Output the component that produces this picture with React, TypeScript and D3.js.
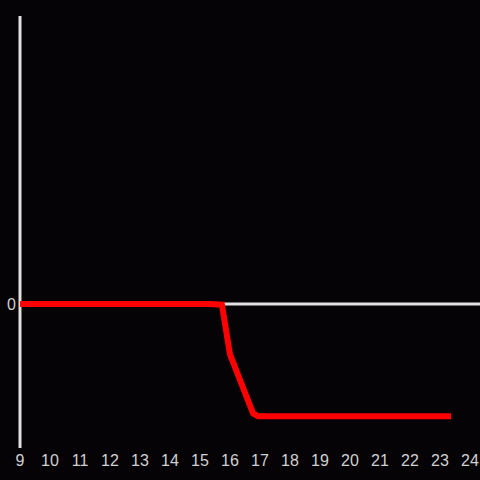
import React from "react";
import * as d3 from "d3";

const xValues = [9, 15.3, 15.73, 16.0, 16.77, 16.93, 23.37];
const yValues = [0, 0, -0.005, -0.35, -0.76, -0.78, -0.78];
const xTicks = [9, 10, 11, 12, 13, 14, 15, 16, 17, 18, 19, 20, 21, 22, 23, 24];
const yTicks = [0];

export default function App() {
  const W = 480, H = 480;
  const x = d3.scaleLinear().domain([9, 24]).range([20, 470]);
  const y = d3.scaleLinear().domain([-1, 2]).range([448, 16]);
  const pts = xValues.map((v, i) => [x(v), y(yValues[i])] as [number, number]);
  const line = d3.line()(pts) || "";
  const axisColor = "#e0e0e0";
  return (
    <svg width={W} height={H} style={{ position: "fixed", left: 0, top: 0, background: "#050306" }}>
      <rect x={0} y={0} width={W} height={H} fill="#050306" />
      <line x1={20} x2={20} y1={16} y2={448} stroke={axisColor} strokeWidth={3} />
      <line x1={20} x2={480} y1={y(0)} y2={y(0)} stroke={axisColor} strokeWidth={3} />
      {yTicks.map((t) => (
        <text key={t} x={16} y={y(t) + 6} textAnchor="end" fill="#d0d0d0"
          fontFamily="'Liberation Sans', Arial, sans-serif" fontSize={16}>{t}</text>
      ))}
      {xTicks.map((t) => (
        <text key={t} x={x(t)} y={466} textAnchor="middle" fill="#d0d0d0"
          fontFamily="'Liberation Sans', Arial, sans-serif" fontSize={16}>{t}</text>
      ))}
      <path d={line} fill="none" stroke="#ff0000" strokeWidth={6} strokeLinejoin="miter" strokeLinecap="butt" />
    </svg>
  );
}
